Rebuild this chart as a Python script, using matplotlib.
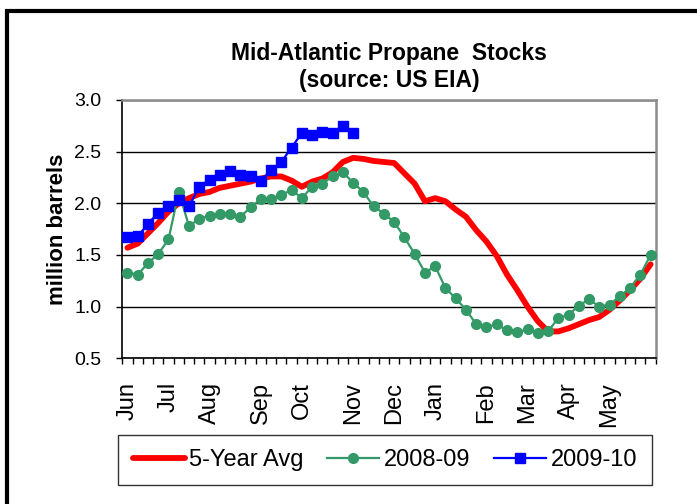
import matplotlib as mpl
mpl.use("Agg")
import matplotlib.pyplot as plt
import matplotlib.patches as patches
import numpy as np

# weekly stocks, million barrels, week 0 = first week of June
avg_5yr = [1.57, 1.61, 1.71, 1.81, 1.92, 2.00, 2.05, 2.09, 2.11, 2.15,
           2.17, 2.19, 2.21, 2.24, 2.26, 2.26, 2.22, 2.16, 2.21, 2.24,
           2.30, 2.40, 2.44, 2.43, 2.41, 2.40, 2.39, 2.29, 2.19, 2.02,
           2.05, 2.02, 1.94, 1.87, 1.74, 1.63, 1.49, 1.31, 1.16, 1.00,
           0.86, 0.76, 0.76, 0.79, 0.83, 0.87, 0.90, 0.97, 1.06, 1.16,
           1.27, 1.41]
stocks_0809 = [1.33, 1.31, 1.42, 1.51, 1.65, 2.11, 1.78, 1.85, 1.88, 1.90,
               1.90, 1.87, 1.96, 2.04, 2.04, 2.08, 2.13, 2.05, 2.16, 2.19,
               2.26, 2.30, 2.20, 2.11, 1.97, 1.90, 1.82, 1.67, 1.51, 1.33,
               1.39, 1.18, 1.08, 0.97, 0.83, 0.80, 0.83, 0.77, 0.75, 0.78,
               0.74, 0.76, 0.89, 0.92, 1.01, 1.07, 1.00, 1.02, 1.10, 1.18,
               1.31, 1.50]
stocks_0910 = [1.67, 1.68, 1.80, 1.91, 1.97, 2.03, 1.97, 2.16, 2.23, 2.27,
               2.31, 2.27, 2.26, 2.22, 2.32, 2.40, 2.54, 2.68, 2.66, 2.69,
               2.68, 2.75, 2.68]

month_labels = ["Jun", "Jul", "Aug", "Sep", "Oct", "Nov",
                "Dec", "Jan", "Feb", "Mar", "Apr", "May"]
month_weeks = [0, 4, 8, 13, 17, 22, 26, 30, 35, 39, 43, 47]

plt.rcParams["font.family"] = ["Liberation Sans", "DejaVu Sans"]

fig = plt.figure(figsize=(6.97, 5.04), dpi=100)
ax = fig.add_axes([0.1755, 0.2891, 0.7653, 0.5125])

ax.plot(np.arange(len(avg_5yr)), avg_5yr, color="#ff0000", lw=4.2,
        solid_capstyle="round", label="5-Year Avg", zorder=3)
ax.plot(np.arange(len(stocks_0809)), stocks_0809, color="#339966", lw=1.6,
        marker="o", markersize=7, label="2008-09", zorder=4)
ax.plot(np.arange(len(stocks_0910)), stocks_0910, color="#0000ff", lw=1.6,
        marker="s", markersize=7.5, label="2009-10", zorder=5)

ax.set_xlim(-0.5, len(avg_5yr) - 0.5)
ax.set_ylim(0.5, 3.0)

# y axis
ax.set_yticks(np.arange(0.5, 3.01, 0.5))
ax.set_yticklabels(["%.1f" % v for v in np.arange(0.5, 3.01, 0.5)], fontsize=14)
ax.tick_params(axis="y", direction="out", length=4, width=1, pad=11, color="black")
ax.yaxis.grid(True, color="black", lw=1)
ax.set_ylabel("million barrels", fontsize=16, fontweight="bold")
ax.yaxis.set_label_coords(-0.102, 0.5)

# x axis: week ticks as minor, month names as major labels
ax.set_xticks(np.arange(-0.5, len(avg_5yr)), minor=True)
ax.set_xticks(month_weeks)
ax.set_xticklabels(month_labels, rotation=90, fontsize=17)
ax.tick_params(axis="x", which="major", length=0, pad=17)
ax.tick_params(axis="x", which="minor", direction="out", length=4, width=1)

for side in ["top", "right"]:
    ax.spines[side].set_color("#8c8c8c")
    ax.spines[side].set_linewidth(1.8)
for side in ["left", "bottom"]:
    ax.spines[side].set_color("black")
    ax.spines[side].set_linewidth(1.2)

fig.text(389 / 697, 1 - 67 / 504, "Mid-Atlantic Propane  Stocks\n(source: US EIA)",
         ha="center", va="center", fontsize=16.5, fontweight="bold", linespacing=1.2)

leg = fig.legend(loc="center", bbox_to_anchor=(385 / 697, 1 - 460 / 504), ncol=3,
                 fontsize=17, frameon=True, fancybox=False, edgecolor="black",
                 handlelength=2.2, handletextpad=0.2, columnspacing=1.0,
                 borderpad=0.6, borderaxespad=0)
leg.get_frame().set_linewidth(1)

# outer frame of the picture (right/bottom run off the image)
fig.add_artist(patches.Rectangle((6.5 / 697, -0.2), 2, 1.2 - 11.5 / 504,
                                 transform=fig.transFigure, fill=False,
                                 edgecolor="black", lw=3))

fig.savefig("out.png", dpi=100)
